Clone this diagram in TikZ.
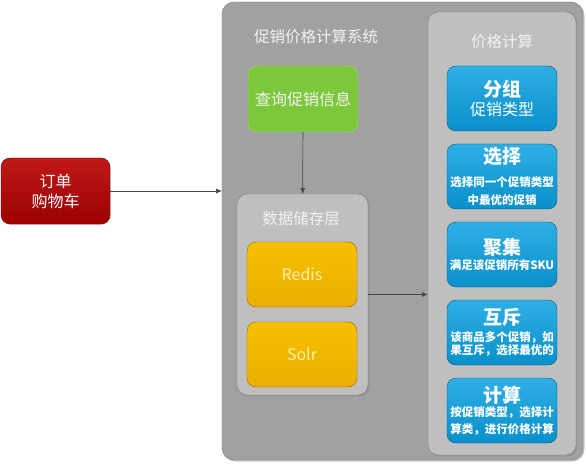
\documentclass[tikz,border=0pt]{standalone}
\usepackage{fontspec}
\setmainfont{Noto Sans CJK SC}
\usetikzlibrary{arrows.meta, positioning, shadows}
\definecolor{grisSistema}{HTML}{A1A1A1}
\definecolor{grisColumna}{HTML}{BFBFBF}
\definecolor{grisBorde}{HTML}{7A7A7A}
\definecolor{rojoPedido}{HTML}{B80000}
\definecolor{verdeConsulta}{HTML}{7DC83A}
\definecolor{naranjaCache}{HTML}{F6B800}
\definecolor{azulPaso}{HTML}{0AA0E0}
\definecolor{grisFlecha}{HTML}{454545}
\definecolor{blancoTitulo}{HTML}{F2F2F2}
\definecolor{amarilloTexto}{HTML}{FFF2A6}
\newcommand{\encabezado}[1]{{\fontsize{19}{22}\selectfont\bfseries #1}}
\tikzset{
  cajaBase/.style={
    draw, thin, rounded corners=9pt, inner sep=0pt, outer sep=0pt,
    minimum width=110pt, minimum height=65pt,
    align=center, font=\fontsize{16}{20}\selectfont
  },
  cajaPedido/.style={cajaBase, draw=rojoPedido!60!black, top color=rojoPedido!90!white,
    bottom color=rojoPedido!85!black, text=white, minimum width=109pt, minimum height=66pt,
    drop shadow={shadow xshift=1pt, shadow yshift=-1pt, opacity=0.3}},
  cajaConsulta/.style={cajaBase, draw=verdeConsulta!70!white, fill=verdeConsulta,
    text=blancoTitulo, minimum height=66pt},
  cajaCache/.style={cajaBase, draw=naranjaCache!60!black, top color=naranjaCache!90!yellow,
    bottom color=naranjaCache!95!black, text=amarilloTexto},
  cajaPaso/.style={cajaBase, draw=azulPaso!55!black, top color=azulPaso!85!white,
    bottom color=azulPaso!90!black, text=white,
    font=\fontsize{11.5}{15}\selectfont\bfseries},
  cajaSistema/.style={draw=grisBorde, fill=grisSistema, rounded corners=12pt,
    inner sep=0pt, outer sep=0pt,
    drop shadow={shadow xshift=1.5pt, shadow yshift=-1.5pt, opacity=0.45}},
  cajaColumna/.style={draw=grisBorde, fill=grisColumna, rounded corners=10pt,
    inner sep=0pt, outer sep=0pt,
    drop shadow={shadow xshift=1.5pt, shadow yshift=-1.5pt, opacity=0.35}},
  titulo/.style={font=\fontsize{15.5}{18}\selectfont, text=blancoTitulo, inner sep=0pt},
  flecha/.style={-{Latex[length=6pt, width=5pt]}, grisFlecha, line width=0.7pt},
}
\begin{document}
\begin{tikzpicture}[x=1pt, y=-1pt]
  \useasboundingbox (0,0) rectangle (586,465);
  % contenedores
  \node[cajaSistema, minimum width=361pt, minimum height=458pt] (sistema) at (402.5,231) {};
  \node[titulo] (tSistema) at (316,37) {促销价格计算系统};
  \node[cajaColumna, minimum width=148pt, minimum height=443pt] (columna) at (502,233.5) {};
  \node[titulo] (tColumna) at (502,42) {价格计算};
  \node[cajaColumna, minimum width=131pt, minimum height=201pt] (datos) at (302.5,294.5) {};
  \node[titulo] (tDatos) at (301,219) {数据储存层};
  % nodos
  \node[cajaPedido] (pedido) at (55.5,191) {订单\\购物车};
  \node[cajaConsulta] (consulta) at (303,99) {查询促销信息};
  \node[cajaCache] (redis) at (302,274.5) {Redis};
  \node[cajaCache, below=15pt of redis] (solr) {Solr};
  % pasos del calculo
  \node[cajaPaso] (fenzu) at (502,98.5) {\encabezado{分组}\\[3pt]{\fontsize{16}{18}\selectfont\mdseries 促销类型}};
  \node[cajaPaso, below=13pt of fenzu] (xuanze) {\encabezado{选择}\\[8pt]选择同一个促销类型\\[3pt]中最优的促销};
  \node[cajaPaso, below=13pt of xuanze] (juji) {\encabezado{聚集}\\满足该促销所有SKU};
  \node[cajaPaso, below=13pt of juji] (huchi) {\encabezado{互斥}\\[2pt]该商品多个促销，如\\[-2pt]果互斥，选择最优的};
  \node[cajaPaso, below=13pt of huchi] (jisuan) {\encabezado{计算}\\[-1pt]按促销类型，选择计\\[2pt]算类，进行价格计算};
  % flechas
  \draw[flecha] (pedido) -- (pedido -| sistema.west);
  \draw[flecha] (consulta) -- (datos);
  \draw[flecha] (datos) -- (datos -| columna.west);
\end{tikzpicture}
\end{document}
